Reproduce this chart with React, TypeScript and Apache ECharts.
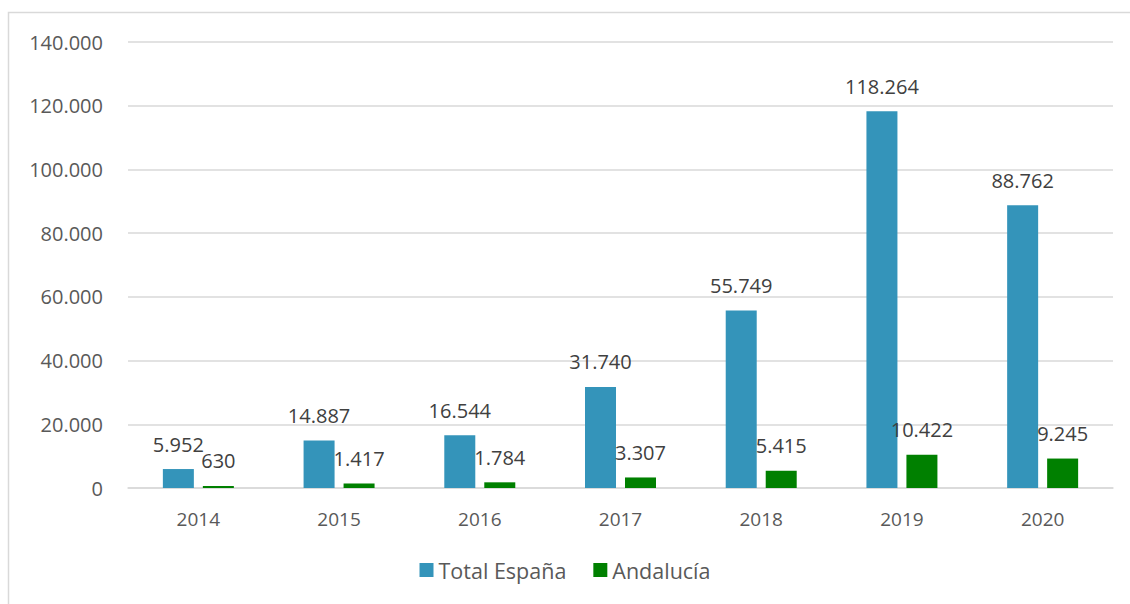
import React, { useEffect, useRef } from "react";
import * as echarts from "echarts";

const years = ["2014", "2015", "2016", "2017", "2018", "2019", "2020"];
const totalEspana = [5952, 14887, 16544, 31740, 55749, 118264, 88762];
const andalucia = [630, 1417, 1784, 3307, 5415, 10422, 9245];
const seriesNames = ["Total España", "Andalucía"];

const fmt = (v: number) => String(Math.round(v)).replace(/\B(?=(\d{3})+(?!\d))/g, ".");

const FONT = "'Open Sans', sans-serif";

export default function App() {
  const ref = useRef<HTMLDivElement>(null);
  useEffect(() => {
    if (!ref.current) return;
    const chart = echarts.init(ref.current, undefined, { renderer: "svg" });
    const label = {
      show: true,
      position: "top" as const,
      distance: 15,
      color: "#404040",
      fontSize: 20,
      fontFamily: FONT,
      formatter: (p: any) => fmt(p.value),
    };
    chart.setOption({
      animation: false,
      backgroundColor: "#ffffff",
      textStyle: { fontFamily: FONT },
      graphic: [
        {
          type: "rect",
          shape: { x: 8.5, y: 12.5, width: 1140, height: 640 },
          style: { fill: "none", stroke: "#d9d9d9", lineWidth: 1.5 },
          silent: true,
          z: -10,
        },
      ],
      grid: { left: 128, right: 17, top: 42, bottom: 116, containLabel: false },
      legend: {
        data: seriesNames,
        bottom: 18,
        left: "center",
        itemWidth: 14,
        itemHeight: 14,
        itemGap: 27,
        icon: "rect",
        textStyle: { color: "#595959", fontSize: 21.5, fontFamily: FONT },
      },
      xAxis: {
        type: "category",
        data: years,
        axisLine: { show: true, lineStyle: { color: "#d9d9d9", width: 1.5 } },
        axisTick: { show: false },
        axisLabel: { color: "#595959", fontSize: 19, fontFamily: FONT, margin: 21 },
      },
      yAxis: {
        type: "value",
        min: 0,
        max: 140000,
        interval: 20000,
        axisLine: { show: false },
        axisTick: { show: false },
        splitLine: { lineStyle: { color: "#d9d9d9", width: 1.5 } },
        axisLabel: {
          color: "#595959",
          fontSize: 20,
          fontFamily: FONT,
          margin: 25,
          formatter: (v: number) => fmt(v),
        },
      },
      series: [
        {
          name: seriesNames[0],
          type: "bar",
          data: totalEspana,
          barWidth: 31,
          barGap: "29%",
          itemStyle: { color: "#3494ba" },
          label,
        },
        {
          name: seriesNames[1],
          type: "bar",
          data: andalucia,
          barWidth: 31,
          barGap: "29%",
          itemStyle: { color: "#008000" },
          label,
        },
      ],
    });
    return () => chart.dispose();
  }, []);
  return (
    <div
      ref={ref}
      style={{ position: "fixed", left: 0, top: 0, width: 1130, height: 604 }}
    />
  );
}
